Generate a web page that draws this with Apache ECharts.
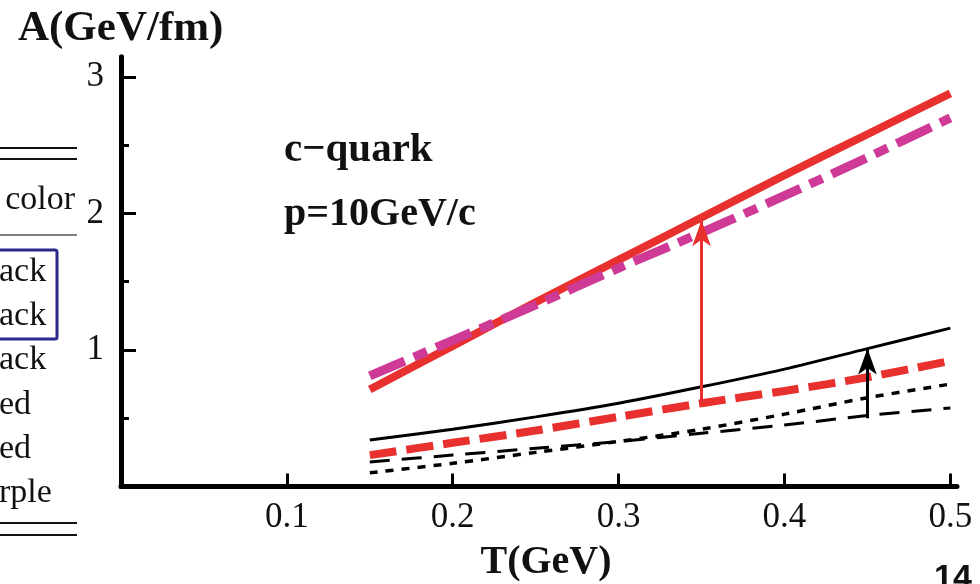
<!DOCTYPE html>
<html><head><meta charset="utf-8">
<script src="https://cdn.jsdelivr.net/npm/echarts@6/dist/echarts.min.js"></script>
<style>html,body{margin:0;padding:0;background:#fff}#c{width:980px;height:584px}</style>
</head><body><div id="c"></div>
<script>
// ---- data ----
const T = [0.15, 0.2, 0.25, 0.3, 0.35, 0.4, 0.45, 0.5];
const redSolid      = [0.71, 1.03, 1.35, 1.66, 1.97, 2.28, 2.58, 2.88];
const magentaDashDot= [0.81, 1.07, 1.33, 1.60, 1.86, 2.13, 2.41, 2.70];
const blackSolid    = [0.34, 0.42, 0.51, 0.61, 0.73, 0.86, 1.01, 1.16];
const redDashed     = [0.23, 0.32, 0.41, 0.51, 0.61, 0.70, 0.80, 0.92];
const blackDashed   = [0.18, 0.23, 0.28, 0.33, 0.39, 0.45, 0.52, 0.575];
const blackDotted   = [0.10, 0.17, 0.25, 0.33, 0.42, 0.53, 0.65, 0.75];
const xTicks = [0.1, 0.2, 0.3, 0.4, 0.5];
const yTicks = [1, 2, 3];
const yMinorTicks = [0.5, 1.5, 2.5];
const arrowX    = [0.35, 0.45];
const arrowFrom = [0.61, 0.50];
const arrowTo   = [1.95, 1.01];
const tableHeader = 'color';
const tableRows = ['ack', 'ack', 'ack', 'ed', 'ed', 'rple'];

// ---- chart ----
const SERIF = '"Liberation Serif","Times New Roman",serif';
const RED = '#e8312f', MAG = '#d03a97';
const pts = ys => T.map((t, i) => [t, ys[i]]);
const chart = echarts.init(document.getElementById('c'), null, {renderer: 'canvas'});

function lineSeries(ys, color, width, type, z) {
  return {
    type: 'line', data: pts(ys), showSymbol: false, symbol: 'none', smooth: 0.3,
    animation: false, silent: true, z: z,
    lineStyle: {color: color, width: width, type: type, cap: 'butt'}
  };
}
function arrowSeries(i, color) {
  return {
    type: 'line', data: [], animation: false, silent: true, z: 10,
    markLine: {
      silent: true, animation: false, symbol: ['none', 'arrow'], symbolSize: [14, 26],
      label: {show: false},
      lineStyle: {color: color, width: 3, type: 'solid'},
      data: [[{coord: [arrowX[i], arrowFrom[i]]}, {coord: [arrowX[i], arrowTo[i]]}]]
    }
  };
}

const axisCommon = {
  axisLine: {show: true, lineStyle: {color: '#000', width: 5}},
  splitLine: {show: false}
};

const rowY0 = 272, rowDy = 44.2;
const tfont = '34px ' + SERIF;
const graphics = [
  {type: 'text', x: 18, y: 29, style: {text: 'A(GeV/fm)', font: 'bold 43px ' + SERIF, fill: '#111', textVerticalAlign: 'middle'}},
  {type: 'text', x: 546, y: 563, style: {text: 'T(GeV)', font: 'bold 40px ' + SERIF, fill: '#111', textAlign: 'center', textVerticalAlign: 'middle'}},
  {type: 'text', x: 284, y: 150, style: {text: 'c\u2212quark', font: 'bold 41px ' + SERIF, fill: '#111', textVerticalAlign: 'middle'}},
  {type: 'text', x: 284, y: 215, style: {text: 'p=10GeV/c', font: 'bold 40px ' + SERIF, fill: '#111', textVerticalAlign: 'middle'}},
  // table fragment on the left
  {type: 'line', shape: {x1: 0, y1: 148, x2: 77, y2: 148}, style: {stroke: '#111', lineWidth: 2}},
  {type: 'line', shape: {x1: 0, y1: 159, x2: 77, y2: 159}, style: {stroke: '#111', lineWidth: 2}},
  {type: 'line', shape: {x1: 0, y1: 235, x2: 77, y2: 235}, style: {stroke: '#555', lineWidth: 1.5}},
  {type: 'line', shape: {x1: 0, y1: 523, x2: 77, y2: 523}, style: {stroke: '#111', lineWidth: 2}},
  {type: 'line', shape: {x1: 0, y1: 535, x2: 77, y2: 535}, style: {stroke: '#111', lineWidth: 2}},
  {type: 'rect', shape: {x: -10, y: 250, width: 67, height: 89, r: 2}, style: {fill: 'none', stroke: '#2a2a8a', lineWidth: 3}},
  {type: 'text', x: 75, y: 200, style: {text: tableHeader, font: tfont, fill: '#111', textAlign: 'right', textVerticalAlign: 'middle'}}
].concat(tableRows.map((t, i) => ({
  type: 'text', x: -1, y: rowY0 + i * rowDy,
  style: {text: t, font: tfont, fill: '#111', textAlign: 'left', textVerticalAlign: 'middle'}
}))).concat([
  {type: 'text', x: 934, y: 562, style: {text: '14', font: 'bold 34px "Liberation Sans",Arial,sans-serif', fill: '#111', textVerticalAlign: 'top'}}
]);

chart.setOption({
  animation: false,
  backgroundColor: '#fff',
  grid: {left: 121, right: 23, top: 57, bottom: 97.5, containLabel: false},
  xAxis: Object.assign({}, axisCommon, {
    type: 'value', min: 0, max: 0.504,
    axisTick: {show: true, inside: true, length: 13, customValues: xTicks, lineStyle: {color: '#000', width: 3}},
    axisLabel: {show: true, customValues: xTicks, margin: 14, formatter: v => v.toFixed(1),
      fontFamily: SERIF, fontSize: 35, color: '#111'}
  }),
  yAxis: [
    Object.assign({}, axisCommon, {
      type: 'value', min: 0, max: 3.146,
      axisTick: {show: true, inside: true, length: 15, customValues: yTicks, lineStyle: {color: '#000', width: 3}},
      axisLabel: {show: true, customValues: yTicks, margin: 17, formatter: v => String(v),
        fontFamily: SERIF, fontSize: 35, color: '#111'}
    }),
    Object.assign({}, axisCommon, {
      type: 'value', min: 0, max: 3.146, position: 'left',
      axisTick: {show: true, inside: true, length: 8, customValues: yMinorTicks, lineStyle: {color: '#000', width: 3}},
      axisLabel: {show: false}
    })
  ],
  series: [
    lineSeries(blackDotted, '#000', 3.5, [8, 8], 2),
    lineSeries(blackDashed, '#000', 3, [20, 12], 2),
    lineSeries(blackSolid, '#000', 3, 'solid', 2),
    lineSeries(redDashed, RED, 8, [27, 10], 3),
    lineSeries(redSolid, RED, 8, 'solid', 3),
    lineSeries(magentaDashDot, MAG, 9, [38, 10, 14, 10], 4),
    arrowSeries(0, RED),
    arrowSeries(1, '#000')
  ],
  graphic: graphics
});
</script>
</body></html>
